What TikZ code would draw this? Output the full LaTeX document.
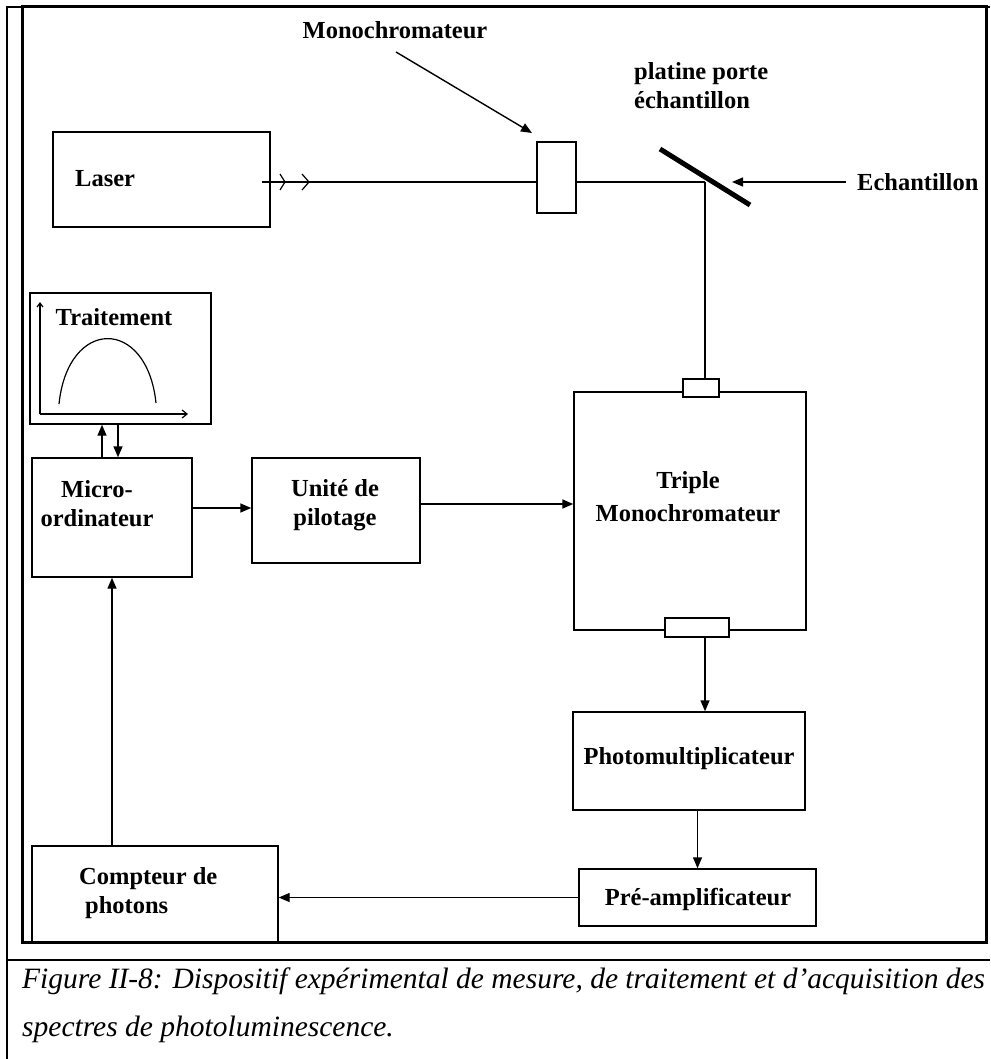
\documentclass[tikz,border=0pt]{standalone}
\usepackage{fontspec}
\setmainfont{Liberation Serif}
\usetikzlibrary{arrows.meta}
\begin{document}
\begin{tikzpicture}[x=1pt,y=-1pt,
  box/.style={draw, line width=1.4pt, inner sep=0pt},
  port/.style={draw, fill=white, line width=1.4pt, inner sep=0pt},
  lbl/.style={inner sep=0pt, font=\bfseries\fontsize{24.5}{29}\selectfont, align=center},
  wire/.style={line width=1.4pt},
  arr/.style={line width=1.4pt, -{Triangle[length=11pt,width=9pt]}},
  captxt/.style={inner sep=0pt, anchor=base west, font=\itshape\fontsize{29.5}{30}\selectfont}]
\useasboundingbox (0,0) rectangle (990,1059);
% frame
\draw[line width=3pt] (22,7) rectangle (986,942);
\draw[line width=2.5pt] (7,1059) -- (7,7) -- (990,7);
\draw[line width=2.5pt] (7,960) -- (990,960);
% boxes
\node[box, minimum width=217pt, minimum height=95pt] (laser) at (161.5,179.5) {};
\node[box, minimum width=39pt, minimum height=71pt] (mono) at (556.5,177.5) {};
\node[box, minimum width=181pt, minimum height=131pt] (trait) at (120.5,358.5) {};
\node[box, minimum width=160pt, minimum height=119pt] (micro) at (112,517.5) {};
\node[box, minimum width=168pt, minimum height=105pt] (unite) at (336,510.5) {};
\node[box, minimum width=232pt, minimum height=238pt] (triple) at (690,511) {};
\node[port, minimum width=36pt, minimum height=18pt] (tport) at (701,388) {};
\node[port, minimum width=64pt, minimum height=19pt] (bport) at (697,627.5) {};
\node[box, minimum width=232pt, minimum height=98pt] (photo) at (689,761) {};
\node[box, minimum width=237pt, minimum height=57pt] (pre) at (697.5,897.5) {};
\node[box, minimum width=246pt, minimum height=96pt] (compteur) at (155,894) {};
% labels
\node[lbl, anchor=west] (laserlbl) at (75,179) {Laser};
\node[lbl] (monolbl) at (395,30) {Monochromateur};
\node[lbl, anchor=west, align=left] (platlbl) at (634,86) {platine porte\\échantillon};
\node[lbl, anchor=west] (ech) at (857,182) {Echantillon};
\node[lbl] (traitlbl) at (114,317) {Traitement};
\node[lbl] (microlbl) at (97,504) {Micro-\\ordinateur};
\node[lbl] (unitelbl) at (335,505) {Unité de\\pilotage};
\node[lbl, font=\bfseries\fontsize{24.5}{33}\selectfont] (triplelbl) at (688,497) {Triple\\Monochromateur};
\node[lbl] (photolbl) at (689,759) {Photomultiplicateur};
\node[lbl] (prelbl) at (698,899) {Pré-amplificateur};
\node[lbl, anchor=west, align=left] (complbl) at (79,893) {Compteur de\\\hspace*{6pt}photons};
% optical path
\coordinate (beamstart) at (262,182);
\coordinate (mir) at (705,182);
\draw[wire] (beamstart) -- (mono.west |- beamstart);
\draw[wire] (mono.east |- beamstart) -- (mir);
\draw[line width=1.2pt] (280,174) -- (285,182) -- (280,190);
\draw[line width=1.2pt] (302,174) -- (309,182) -- (302,190);
\coordinate (m1) at (660,149);
\coordinate (m2) at (750,205);
\draw[line width=5pt] (m1) -- (m2);
\coordinate (ma) at (396,52);
\coordinate (mtip) at (532,133);
\draw[arr] (ma) -- (mtip);
\coordinate (etip) at (732,182);
\draw[arr] ([xshift=-11pt]ech.west) -- (etip);
\draw[wire] (mir) -- (mir |- tport.north);
\draw[arr] (bport.south -| mir) -- (photo.north -| mir);
\draw[arr] (photo.south -| pre) -- (pre.north);
\draw[arr] (pre.west) -- (compteur.east |- pre.west);
\draw[arr] (micro.south |- compteur.north) -- (micro.south);
\draw[arr] ([yshift=9.5pt]micro.east) -- ([yshift=2.5pt]unite.west);
\draw[arr] ([yshift=6.5pt]unite.east) -- ([yshift=7pt]triple.west);
\draw[arr] ([xshift=-10pt]micro.north) -- ([xshift=-18.5pt]trait.south);
\draw[arr] ([xshift=-2.5pt]trait.south) -- ([xshift=6pt]micro.north);
% graph inside Traitement
\coordinate (orig) at (40,414);
\draw[line width=1.2pt, -{Straight Barb[length=4pt,width=6pt]}] (orig) -- (40,302);
\draw[line width=1.2pt, -{Straight Barb[length=5pt,width=8pt]}] (orig) -- (188,414);
\draw[line width=1.2pt] (59,404) .. controls (68,317) and (147,317) .. (156,403);
% caption
\node[captxt] (cap1) at (22,988) {Figure II-8: Dispositif expérimental de mesure, de traitement et d’acquisition des};
\node[captxt] (cap2) at (22,1036) {spectres de photoluminescence.};
\end{tikzpicture}
\end{document}
